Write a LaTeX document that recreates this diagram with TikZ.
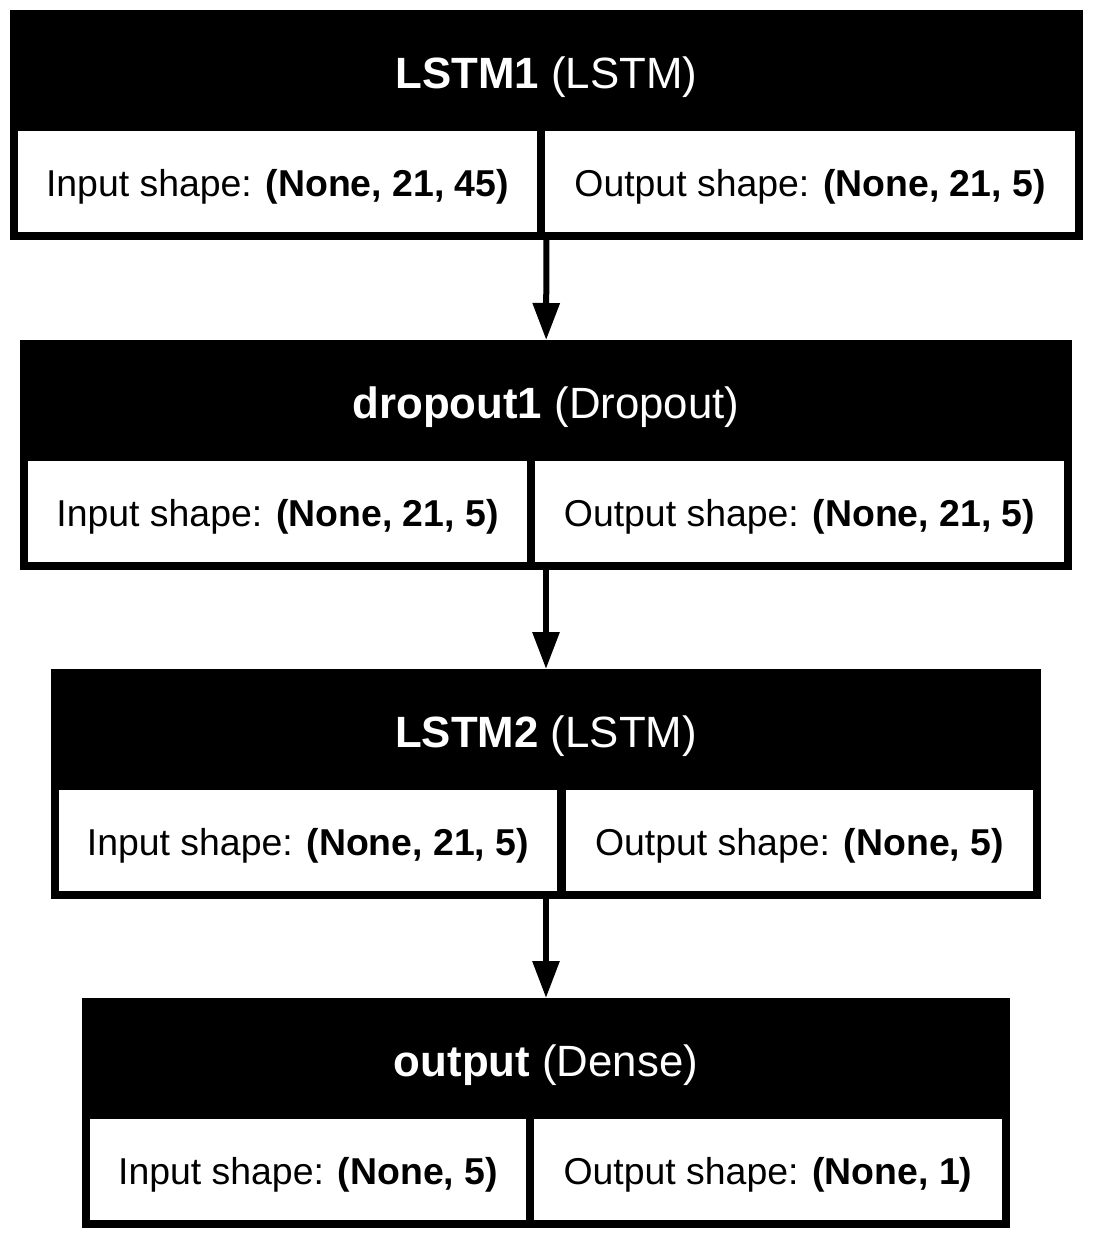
\documentclass[tikz,border=0pt]{standalone}
\usepackage{fontspec}
\setmainfont{Liberation Sans}
\usetikzlibrary{arrows.meta,positioning}

\begin{document}
\begin{tikzpicture}[x=1pt,y=-1pt,>={Triangle[length=37pt,width=26pt]},
 layer/.style={fill=black,inner sep=0pt,outer sep=0pt,minimum height=230pt,anchor=north west},
 headtext/.style={text=white,font=\fontsize{43.8pt}{52pt}\selectfont},
 cell/.style={fill=white,inner sep=0pt,outer sep=0pt,minimum height=101pt,text height=37pt,text depth=8pt,font=\fontsize{37.4pt}{45pt}\selectfont},
 link/.style={->,line width=6pt}]
 \fill[white] (0,0) rectangle (1092,1239);

 % LSTM1
 \node[layer,minimum width=1073pt] (lstm1) at (10,10) {};
 \node[headtext] (lstm1h) at ([yshift=-67pt]lstm1.north) {\textbf{LSTM1} (LSTM)};
 \node[cell,minimum width=519pt,below right=121pt and 8pt of lstm1.north west] (lstm1in) {Input shape: \textbf{(None, 21, 45)}};
 \node[cell,minimum width=530pt,below left=121pt and 8pt of lstm1.north east] (lstm1out) {Output shape: \textbf{(None, 21, 5)}};

 % dropout1
 \node[layer,minimum width=1052pt] (drop1) at (20,340) {};
 \node[headtext] (drop1h) at ([yshift=-67pt]drop1.north) {\textbf{dropout1} (Dropout)};
 \node[cell,minimum width=499pt,below right=121pt and 8pt of drop1.north west] (drop1in) {Input shape: \textbf{(None, 21, 5)}};
 \node[cell,minimum width=529pt,below left=121pt and 8pt of drop1.north east] (drop1out) {Output shape: \textbf{(None, 21, 5)}};

 % LSTM2
 \node[layer,minimum width=990pt] (lstm2) at (51,669) {};
 \node[headtext] (lstm2h) at ([yshift=-67pt]lstm2.north) {\textbf{LSTM2} (LSTM)};
 \node[cell,minimum width=498pt,below right=121pt and 8pt of lstm2.north west] (lstm2in) {Input shape: \textbf{(None, 21, 5)}};
 \node[cell,minimum width=467pt,below left=121pt and 8pt of lstm2.north east] (lstm2out) {Output shape: \textbf{(None, 5)}};

 % output
 \node[layer,minimum width=928pt] (dense) at (82,998) {};
 \node[headtext] (denseh) at ([yshift=-67pt]dense.north) {\textbf{output} (Dense)};
 \node[cell,minimum width=436pt,below right=121pt and 8pt of dense.north west] (densein) {Input shape: \textbf{(None, 5)}};
 \node[cell,minimum width=468pt,below left=121pt and 8pt of dense.north east] (denseout) {Output shape: \textbf{(None, 1)}};

 \draw[link] (lstm1) -- (drop1);
 \draw[link] (drop1) -- (lstm2);
 \draw[link] (lstm2) -- (dense);
\end{tikzpicture}
\end{document}
